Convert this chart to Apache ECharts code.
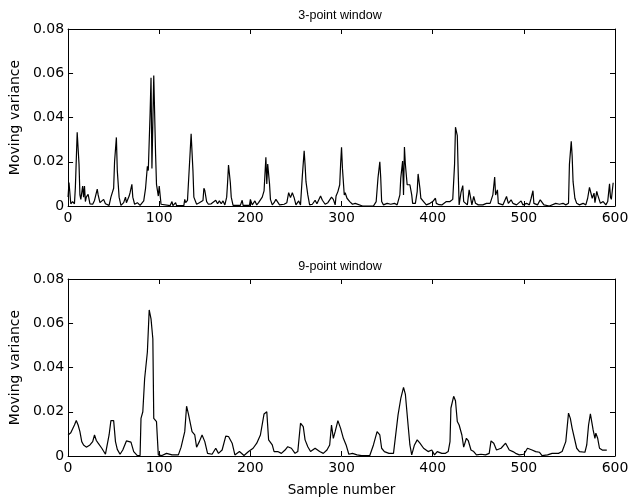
<!DOCTYPE html>
<html>
<head>
<meta charset="utf-8">
<script src="https://cdn.jsdelivr.net/npm/echarts@6/dist/echarts.min.js"></script>
<style>html,body{margin:0;padding:0;background:#fff;}#c{width:636px;height:504px;}</style>
</head>
<body>
<div id="c"></div>
<script>
// 3-point window: sample index and moving variance
const topSamples = [0,1,3,5,7,8,10,12,13,14,16,17,18,19,20,22,24,27,29,32,33,35,37,39,41,45,47,50,51,53,54,56,58,61,63,64,67,68,70,71,73,76,79,83,85,87,88,90,91,92,94,96,97,99,100,102,104,112,114,115,118,119,127,128,129,131,132,134,135,137,138,141,144,146,148,149,150,152,154,157,159,162,164,166,168,170,172,174,175,176,178,179,181,189,191,192,199,200,202,205,207,209,211,213,215,217,218,219,221,222,224,226,228,230,232,237,240,242,244,246,248,250,253,255,257,259,260,261,263,265,268,271,273,277,279,282,285,287,289,291,293,294,296,298,299,300,301,303,304,306,309,312,315,317,323,335,338,340,342,343,344,346,350,354,358,361,364,365,367,368,369,370,372,374,375,377,378,381,383,384,386,387,390,393,397,400,403,404,407,410,415,419,422,424,425,427,428,429,431,433,434,436,438,440,441,443,445,447,450,455,459,463,466,468,469,471,472,477,481,483,486,488,492,497,499,503,506,508,510,511,515,518,520,522,528,535,539,543,546,549,550,552,553,554,556,558,561,565,568,570,572,574,575,577,578,580,581,584,587,590,592,594,595,596,598];
const topValues = [0.004,0.0106,0.001,0.002,0.001,0.0083,0.0333,0.019,0.005,0.003,0.009,0.004,0.009,0.002,0.004,0.0053,0.001,0.0008,0.0025,0.0076,0.005,0.0015,0.002,0.003,0.001,0.0003,0.004,0.008,0.02,0.031,0.016,0.004,0.0003,0.0015,0.004,0.0015,0.0045,0.006,0.0098,0.004,0.0008,0.0015,0.0003,0.0023,0.008,0.018,0.016,0.042,0.058,0.017,0.059,0.0235,0.0098,0.0045,0.009,0.0008,0.0002,0.0002,0.002,0.0002,0.0015,0.0002,0.0002,0.003,0.0015,0.0025,0.003,0.025,0.0326,0.016,0.004,0.0008,0.0015,0.001,0.0025,0.008,0.007,0.002,0.0008,0.001,0.0003,0.0026,0.001,0.0023,0.001,0.0023,0.0005,0.004,0.0106,0.0185,0.0106,0.004,0.0003,0.0003,0.0026,0.0003,0.0003,0.003,0.0005,0.0023,0.0005,0.0015,0.0008,0.004,0.0068,0.022,0.01,0.019,0.01,0.003,0.0005,0.0015,0.003,0.0023,0.0005,0.0008,0.0015,0.006,0.0038,0.006,0.0038,0.0005,0.0023,0.0005,0.0136,0.025,0.0186,0.011,0.005,0.0005,0.0008,0.0026,0.001,0.0045,0.0026,0.0008,0.0015,0.0023,0.004,0.003,0.0005,0.0045,0.0065,0.0096,0.019,0.0265,0.017,0.005,0.006,0.0035,0.002,0.0008,0.0012,0.0005,0,0,0.002,0.0127,0.02,0.0127,0.002,0.0005,0.0012,0.0008,0.0012,0.0005,0.005,0.0127,0.0203,0.005,0.0267,0.019,0.0096,0.0104,0.0096,0.005,0.0012,0.0012,0.0065,0.0145,0.008,0.0035,0.002,0.0005,0.0012,0.002,0.0035,0.0012,0.0006,0.0005,0.002,0.002,0.003,0.0188,0.0356,0.0318,0.015,0.0005,0.006,0.0092,0.002,0.0012,0.0005,0.0073,0.005,0.0005,0.0043,0.0012,0.0005,0.0005,0.0012,0.0012,0.005,0.0131,0.005,0.0073,0.0012,0.0005,0.0043,0.0012,0.0028,0.0012,0.0005,0.0023,0.0005,0.0012,0.0005,0.0035,0.0069,0.0012,0.0005,0.0028,0.0032,0.0005,0,0.0012,0.0008,0.0012,0.0005,0.0012,0.0188,0.0292,0.0226,0.011,0.0035,0.0012,0.0005,0.0012,0.0005,0.0035,0.0084,0.0092,0.0035,0.0058,0.0015,0.0066,0.005,0.0012,0.002,0.0005,0.002,0.01,0.004,0.003,0.0105];

// 9-point window: sample index and moving variance
const botSamples = [0,3,5,7,9,11,13,15,17,20,24,27,29,31,33,37,41,45,47,50,52,54,57,60,64,66,69,72,76,79,80,82,84,87,89,91,93,94,97,99,103,108,114,121,124,128,130,132,136,139,141,144,147,150,153,158,162,165,169,173,176,180,183,188,193,198,203,207,209,211,213,215,218,220,222,224,226,230,234,238,241,245,249,252,255,258,260,263,266,271,276,280,284,287,289,291,293,296,299,302,305,308,312,317,322,331,335,339,342,344,347,352,357,359,362,365,368,370,373,375,377,380,383,386,390,395,399,402,405,410,414,417,419,420,423,425,427,429,432,434,437,439,442,445,448,453,458,462,464,467,470,475,480,484,488,491,495,500,504,509,513,517,520,526,531,538,542,546,549,551,553,555,558,561,567,569,571,573,576,578,579,581,583,586,591];
const botValues = [0.0095,0.0105,0.011,0.014,0.016,0.014,0.011,0.0065,0.005,0.004,0.005,0.0065,0.0095,0.007,0.0058,0.0035,0.0008,0.0095,0.016,0.016,0.0065,0.003,0.0008,0.0027,0.0068,0.0068,0.0063,0.002,0.0002,0.0002,0.017,0.02,0.035,0.047,0.066,0.062,0.053,0.017,0.0155,0.0005,0.0002,0.0012,0.0005,0.0005,0.004,0.011,0.0225,0.019,0.011,0.0095,0.004,0.0065,0.0095,0.0065,0.0012,0.0008,0.0035,0.0012,0.0027,0.009,0.0088,0.0058,0.0005,0.002,0.0002,0.002,0.0035,0.0058,0.005,0.0095,0.009,0.019,0.02,0.0073,0.0065,0.005,0.002,0.002,0.0012,0.0027,0.0042,0.0035,0.0012,0.002,0.0148,0.0133,0.0073,0.0042,0.002,0.0035,0.002,0.0012,0.0027,0.005,0.014,0.008,0.011,0.016,0.0125,0.008,0.005,0.0008,0.0012,0.0005,0.0002,0.0002,0.005,0.011,0.0095,0.0035,0.002,0.0012,0.0012,0.0005,0.0186,0.026,0.031,0.028,0.014,0.005,0.0005,0.005,0.0073,0.0058,0.0035,0.002,0.0027,0.0005,0.002,0.0012,0.0012,0.002,0.0065,0.0217,0.027,0.025,0.0156,0.014,0.0095,0.004,0.008,0.007,0.0027,0.002,0.0005,0.0008,0.0005,0.0012,0.0068,0.0058,0.0027,0.0035,0.0058,0.0027,0.002,0.0012,0.0005,0.0008,0.0035,0.0027,0.002,0.0017,0.0002,0.0005,0.0012,0.0012,0.002,0.0065,0.0194,0.017,0.0125,0.0118,0.0035,0.002,0.0017,0.005,0.014,0.019,0.0118,0.008,0.0103,0.008,0.0035,0.0027,0.0027];

const titles = ['3-point window', '9-point window'];
const yName = 'Moving variance';
const xName = 'Sample number';
const xTicks = [0, 100, 200, 300, 400, 500, 600];
const yTicks = [0, 0.02, 0.04, 0.06, 0.08];

const FONT = '"DejaVu Sans", sans-serif';
const TITLE_FONT = '"Liberation Sans", Arial, sans-serif';
const pair = (xs, ys) => xs.map((x, i) => [x, ys[i]]);

const grids = [
  {left: 66, top: 29, width: 549, height: 177},
  {left: 66, top: 279, width: 549, height: 177}
];

function yFmt(v) {
  if (Math.abs(v) < 1e-9) return '0';
  return v.toFixed(2);
}

const xAxes = [], yAxes = [];
grids.forEach((g, gi) => {
  const common = {
    gridIndex: gi, type: 'value', min: xTicks[0], max: xTicks[xTicks.length - 1], interval: 100,
    axisLine: {show: true, onZero: false, lineStyle: {color: '#000', width: 1}},
    axisTick: {show: true, inside: true, length: 5, lineStyle: {color: '#000'}},
    splitLine: {show: false}
  };
  xAxes.push(Object.assign({}, common, {
    position: 'bottom',
    axisLabel: {show: true, color: '#000', fontFamily: FONT, fontSize: 14, margin: 5},
    name: gi === 1 ? xName : '', nameLocation: 'middle', nameGap: 27,
    nameTextStyle: {color: '#000', fontFamily: FONT, fontSize: 13.5}
  }));
  xAxes.push(Object.assign({}, common, {position: 'top', axisLabel: {show: false}}));
  const ycommon = {
    gridIndex: gi, type: 'value', min: yTicks[0], max: yTicks[yTicks.length - 1], interval: 0.02,
    axisLine: {show: true, onZero: false, lineStyle: {color: '#000', width: 1}},
    axisTick: {show: true, inside: true, length: 5, lineStyle: {color: '#000'}},
    splitLine: {show: false}
  };
  yAxes.push(Object.assign({}, ycommon, {
    position: 'left',
    axisLabel: {show: true, color: '#000', fontFamily: FONT, fontSize: 14, margin: 4, formatter: yFmt},
    name: yName, nameLocation: 'middle', nameGap: 45,
    nameTextStyle: {color: '#000', fontFamily: FONT, fontSize: 14}
  }));
  yAxes.push(Object.assign({}, ycommon, {position: 'right', axisLabel: {show: false}}));
});

const chart = echarts.init(document.getElementById('c'), null, {renderer: 'canvas'});
chart.setOption({
  backgroundColor: '#fff',
  animation: false,
  title: titles.map((t, i) => ({
    text: t, left: 335, top: i === 0 ? 4 : 255, textAlign: 'center',
    textStyle: {color: '#000', fontFamily: TITLE_FONT, fontSize: 12.5, fontWeight: 'normal'}
  })),
  grid: grids,
  xAxis: xAxes,
  yAxis: yAxes,
  series: [
    {type: 'line', xAxisIndex: 0, yAxisIndex: 0, data: pair(topSamples, topValues), showSymbol: false,
     lineStyle: {color: '#000', width: 1.2}, itemStyle: {color: '#000'}},
    {type: 'line', xAxisIndex: 2, yAxisIndex: 2, data: pair(botSamples, botValues), showSymbol: false,
     lineStyle: {color: '#000', width: 1.2}, itemStyle: {color: '#000'}}
  ]
});
</script>
</body>
</html>
